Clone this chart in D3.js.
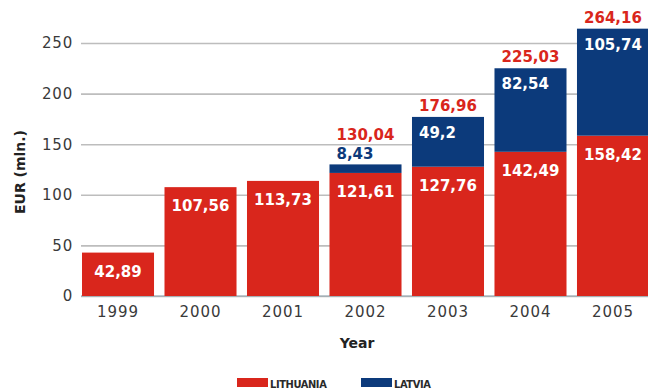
<!DOCTYPE html>
<html>
<head>
<meta charset="utf-8">
<script src="https://cdn.jsdelivr.net/npm/d3@7"></script>
<style>
  html, body { margin: 0; padding: 0; background: #fff; }
  svg { display: block; }
</style>
</head>
<body>
<svg id="chart" width="648" height="391"></svg>
<script>
// Annual amounts, EUR (mln.)
const years = ["1999", "2000", "2001", "2002", "2003", "2004", "2005"];
const lithuania = [42.89, 107.56, 113.73, 121.61, 127.76, 142.49, 158.42];
const latvia = [0, 0, 0, 8.43, 49.2, 82.54, 105.74];
const totals = [null, null, null, 130.04, 176.96, 225.03, 264.16];
const yTicks = [0, 50, 100, 150, 200, 250];
const seriesNames = ["LITHUANIA", "LATVIA"];

const RED = "#d9261c";
const NAVY = "#0c3a7b";
const fmt = v => String(v).replace(".", ",");

const svg = d3.select("#chart");
const plot = { left: 82, right: 649, top: 30, bottom: 296 };

const x = d3.scaleBand()
  .domain(years)
  .range([plot.left, plot.right])
  .paddingInner(0.127)
  .paddingOuter(0);

const y = d3.scaleLinear()
  .domain([0, 250])
  .range([plot.bottom, plot.bottom - 253]);

// gridlines + tick labels
const yAxis = d3.axisLeft(y).tickValues(yTicks).tickSize(-(648 - 81)).tickPadding(8);
const gy = svg.append("g").attr("transform", "translate(81,0)").call(yAxis);
gy.select(".domain").remove();
gy.selectAll(".tick line").attr("stroke", "#bdbdbd").attr("stroke-width", 1.6);
gy.selectAll(".tick text")
  .attr("fill", "#3a3a3a")
  .attr("font-family", "DejaVu Sans, sans-serif")
  .attr("font-size", 15)
  .attr("letter-spacing", 0.8);

// baseline
svg.append("line")
  .attr("x1", 81).attr("x2", 648)
  .attr("y1", y(0)).attr("y2", y(0))
  .attr("stroke", "#8fa3ad").attr("stroke-width", 1.2);

const data = years.map((yr, i) => ({ yr, lt: lithuania[i], lv: latvia[i], total: totals[i] }));

// Lithuania segments
svg.append("g").selectAll("rect").data(data).join("rect")
  .attr("x", d => x(d.yr))
  .attr("width", x.bandwidth())
  .attr("y", d => y(d.lt))
  .attr("height", d => y(0) - y(d.lt))
  .attr("fill", RED);

// Latvia segments stacked on top
svg.append("g").selectAll("rect").data(data.filter(d => d.lv > 0)).join("rect")
  .attr("x", d => x(d.yr))
  .attr("width", x.bandwidth())
  .attr("y", d => y(d.lt + d.lv))
  .attr("height", d => y(d.lt) - y(d.lt + d.lv))
  .attr("fill", NAVY);

const labelFont = "DejaVu Sans, sans-serif";

// Lithuania value labels inside the red segment
svg.append("g").selectAll("text").data(data).join("text")
  .attr("x", d => x(d.yr) + x.bandwidth() / 2)
  .attr("y", d => y(d.lt) + 24)
  .attr("text-anchor", "middle")
  .attr("fill", "#fff")
  .attr("font-family", labelFont)
  .attr("font-weight", "bold")
  .attr("font-size", 15)
  .text(d => fmt(d.lt));

// Latvia value labels: inside when the segment is tall enough, otherwise above it
svg.append("g").selectAll("text").data(data.filter(d => d.lv > 0)).join("text")
  .attr("x", d => x(d.yr) + 7)
  .attr("y", d => d.lv > 20 ? y(d.lt + d.lv) + 21 : y(d.lt + d.lv) - 5)
  .attr("fill", d => d.lv > 20 ? "#fff" : NAVY)
  .attr("font-family", labelFont)
  .attr("font-weight", "bold")
  .attr("font-size", 15)
  .text(d => fmt(d.lv));

// totals above stacked bars
svg.append("g").selectAll("text").data(data.filter(d => d.total !== null)).join("text")
  .attr("x", d => x(d.yr) + x.bandwidth() / 2)
  .attr("y", d => y(d.total) - (d.lv > 20 ? 6 : 24))
  .attr("text-anchor", "middle")
  .attr("fill", RED)
  .attr("font-family", labelFont)
  .attr("font-weight", "bold")
  .attr("font-size", 15)
  .text(d => fmt(d.total));

// x axis labels
const xAxis = d3.axisBottom(x).tickSize(0).tickPadding(10);
const gx = svg.append("g").attr("transform", `translate(0,${y(0)})`).call(xAxis);
gx.select(".domain").remove();
gx.selectAll(".tick text")
  .attr("fill", "#3a3a3a")
  .attr("font-family", "DejaVu Sans, sans-serif")
  .attr("font-size", 15)
  .attr("letter-spacing", 0.9);

// axis titles
svg.append("text")
  .attr("transform", "translate(25,172) rotate(-90)")
  .attr("text-anchor", "middle")
  .attr("fill", "#222")
  .attr("font-family", labelFont)
  .attr("font-weight", "bold")
  .attr("font-size", 14)
  .text("EUR (mln.)");

svg.append("text")
  .attr("x", 357).attr("y", 348)
  .attr("text-anchor", "middle")
  .attr("fill", "#222")
  .attr("font-family", labelFont)
  .attr("font-weight", "bold")
  .attr("font-size", 14)
  .text("Year");

// legend
const legend = svg.append("g");
const legendItems = [
  { name: seriesNames[0], color: RED, x: 237 },
  { name: seriesNames[1], color: NAVY, x: 361 }
];
legendItems.forEach(item => {
  legend.append("rect")
    .attr("x", item.x).attr("y", 378)
    .attr("width", 31).attr("height", 9)
    .attr("fill", item.color);
  legend.append("text")
    .attr("x", item.x + 33).attr("y", 387.5)
    .attr("fill", "#2a2a2a")
    .attr("font-family", "DejaVu Sans Condensed, DejaVu Sans, sans-serif")
    .attr("font-weight", "bold")
    .attr("font-size", 11)
    .attr("letter-spacing", -0.4)
    .text(item.name);
});
</script>
</body>
</html>
